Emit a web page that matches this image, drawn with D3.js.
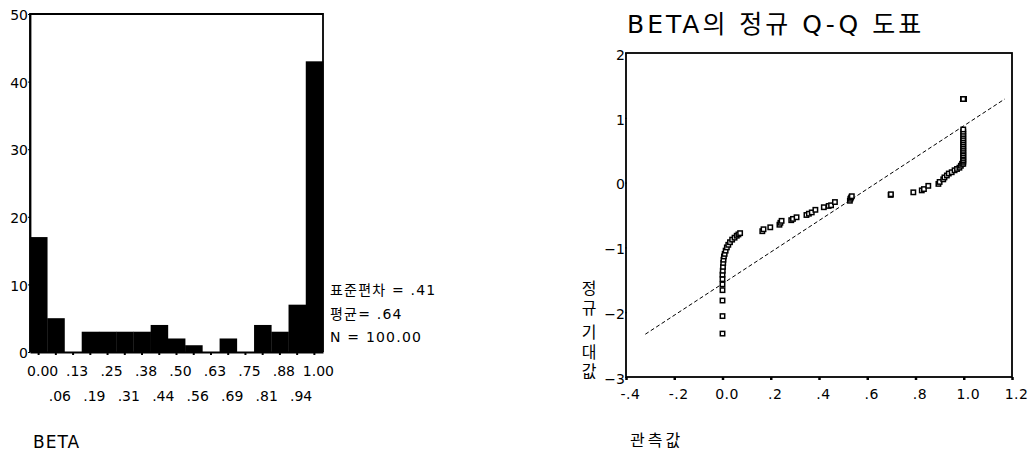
<!DOCTYPE html>
<html>
<head>
<meta charset="utf-8">
<script src="https://cdn.jsdelivr.net/npm/d3@7"></script>
<style>
  body { margin: 0; background: #fff; }
  svg { display: block; }
  text { font-family: "DejaVu Sans", "Noto Sans CJK KR", sans-serif; fill: #000; }
</style>
</head>
<body>
<svg id="chart" width="1031" height="455"></svg>
<script>
// histogram of BETA
const binLabels = ["0.00", ".06", ".13", ".19", ".25", ".31", ".38", ".44", ".50",
                   ".56", ".63", ".69", ".75", ".81", ".88", ".94", "1.00"];
const binCounts = [17, 5, 0, 3, 3, 3, 3, 4, 2, 1, 0, 2, 0, 4, 3, 7, 43];
const histTicks = [0, 10, 20, 30, 40, 50];
const statLines = ["표준편차 = .41", "평균= .64", "N = 100.00"];

// normal Q-Q plot: observed value, expected normal value
const observed = [
  0.000, 0.000, 0.000, 0.000, 0.000, 0.000, 0.000, 0.001, 0.002, 0.003,
  0.004, 0.006, 0.009, 0.013, 0.018, 0.024, 0.031, 0.040, 0.050, 0.059,
  0.066, 0.073, 0.165, 0.170, 0.198, 0.236, 0.240, 0.245, 0.285, 0.292,
  0.307, 0.348, 0.358, 0.370, 0.385, 0.420, 0.440, 0.450, 0.466, 0.528,
  0.530, 0.533, 0.536, 0.697, 0.698, 0.791, 0.826, 0.835, 0.853, 0.895,
  0.900, 0.915, 0.920, 0.930, 0.938, 0.950, 0.962, 0.972, 0.982, 0.988,
  0.993, 0.998, 0.998, 0.998, 0.998, 0.998, 0.998, 0.998, 0.998, 0.998,
  0.998, 0.998, 0.998, 0.998, 0.998, 0.998, 0.998, 0.998, 0.998, 0.998,
  0.998, 0.998, 0.998, 0.998, 0.998, 0.998, 0.998, 0.998, 0.998, 0.998,
  0.998, 0.998, 0.998, 0.998, 0.998, 0.998, 0.998, 0.998, 0.998, 0.998
];
const expected = [
  -2.33, -2.06, -1.82, -1.66, -1.57, -1.49, -1.42, -1.36, -1.30, -1.24,
  -1.19, -1.14, -1.10, -1.05, -1.00, -0.96, -0.92, -0.88, -0.85, -0.82,
  -0.80, -0.78, -0.75, -0.72, -0.69, -0.65, -0.62, -0.59, -0.58, -0.56,
  -0.535, -0.50, -0.48, -0.46, -0.42, -0.38, -0.36, -0.35, -0.30, -0.28,
  -0.25, -0.23, -0.21, -0.19, -0.18, -0.15, -0.12, -0.10, -0.05, -0.02,
  0.01, 0.05, 0.08, 0.11, 0.14, 0.16, 0.19, 0.21, 0.23, 0.26,
  0.29, 0.29, 0.32, 0.34, 0.37, 0.40, 0.42, 0.45, 0.48, 0.505,
  0.535, 0.565, 0.595, 0.625, 0.655, 0.685, 0.72, 0.75, 0.785, 0.82,
  1.29, 1.29, 1.29, 1.29, 1.29, 1.29, 1.29, 1.29, 1.29, 1.29,
  1.29, 1.29, 1.29, 1.29, 1.29, 1.29, 1.29, 1.29, 1.29, 1.29
];
const lineX = [-0.32, 1.17];
const lineY = [-2.34, 1.29];
const qqXTicks = [-0.4, -0.2, 0.0, 0.2, 0.4, 0.6, 0.8, 1.0, 1.2];
const qqXLabels = ["-.4", "-.2", "0.0", ".2", ".4", ".6", ".8", "1.0", "1.2"];
const qqYTicks = [-3, -2, -1, 0, 1, 2];

const svg = d3.select("#chart");

// ---------- histogram ----------
const hx = d3.scaleBand().domain(binLabels).range([30, 323]).padding(0);
const hy = d3.scaleLinear().domain([0, 50]).range([352, 14]);

const hist = svg.append("g");

hist.selectAll("rect")
  .data(binLabels)
  .enter()
  .append("rect")
  .attr("x", d => hx(d))
  .attr("y", (d, i) => hy(binCounts[i]))
  .attr("width", hx.bandwidth() + 0.3)
  .attr("height", (d, i) => hy(0) - hy(binCounts[i]))
  .attr("fill", "#000");

// frame: top, left, right
hist.append("path")
  .attr("d", `M${hx.range()[0]},${hy(0)}V${hy(50)}H${hx.range()[1]}V${hy(0)}`)
  .attr("fill", "none").attr("stroke", "#000").attr("stroke-width", 1.8);

hist.append("g")
  .attr("transform", `translate(0,${hy(0)})`)
  .call(d3.axisBottom(hx).tickSize(3).tickSizeOuter(0).tickFormat(""))
  .call(g => g.select(".domain").attr("stroke-width", 1.8))
  .call(g => g.selectAll(".tick line").attr("stroke-width", 2));

hist.append("g")
  .attr("transform", `translate(${hx.range()[0]},0)`)
  .call(d3.axisLeft(hy).tickValues(histTicks).tickSize(2).tickSizeOuter(0).tickPadding(0))
  .call(g => g.select(".domain").attr("stroke-width", 1.8))
  .call(g => g.selectAll("text").attr("font-size", 14).attr("font-family", "DejaVu Sans").attr("dy", "0.4em"));

hist.append("g").selectAll("text")
  .data(binLabels)
  .enter()
  .append("text")
  .attr("x", d => hx(d) + hx.bandwidth() / 2 + 4)
  .attr("y", (d, i) => i % 2 === 0 ? 376 : 401)
  .attr("text-anchor", "middle")
  .attr("font-size", 14)
  .text(d => d);

hist.append("g").selectAll("text")
  .data(statLines)
  .enter()
  .append("text")
  .attr("x", 330)
  .attr("y", (d, i) => 295 + i * 23.5)
  .attr("font-size", 14)
  .attr("letter-spacing", 1.2)
  .text(d => d);

hist.append("text")
  .attr("x", 33).attr("y", 448)
  .attr("font-size", 17).attr("letter-spacing", 1)
  .text("BETA");

// ---------- Q-Q plot ----------
const qx = d3.scaleLinear().domain([-0.4, 1.2]).range([626, 1012]);
const qy = d3.scaleLinear().domain([-3, 2]).range([377, 53]);

const qq = svg.append("g");

qq.append("text")
  .attr("x", 627).attr("y", 33)
  .attr("font-size", 25).attr("letter-spacing", 3)
  .text("BETA의 정규 Q-Q 도표");

qq.append("rect")
  .attr("x", qx(-0.4)).attr("y", qy(2))
  .attr("width", qx(1.2) - qx(-0.4)).attr("height", qy(-3) - qy(2))
  .attr("fill", "none").attr("stroke", "#000").attr("stroke-width", 1.8);

qq.append("g")
  .attr("transform", `translate(0,${qy(-3)})`)
  .call(d3.axisBottom(qx).tickValues(qqXTicks).tickSize(3).tickSizeOuter(0).tickPadding(9)
    .tickFormat((d, i) => qqXLabels[i]))
  .call(g => g.select(".domain").remove())
  .call(g => g.selectAll(".tick line").attr("stroke-width", 2.5))
  .call(g => g.selectAll("text").attr("font-size", 14).attr("font-family", "DejaVu Sans")
    .attr("dx", 4).attr("letter-spacing", 0.5));

qq.append("g")
  .attr("transform", `translate(${qx(-0.4) + 1},0)`)
  .call(d3.axisLeft(qy).tickValues(qqYTicks).tickSize(2).tickSizeOuter(0).tickPadding(0)
    .tickFormat(d3.format("d")))
  .call(g => g.select(".domain").remove())
  .call(g => g.selectAll("text").attr("font-size", 14).attr("font-family", "DejaVu Sans").attr("dy", "0.45em"));

qq.append("line")
  .attr("x1", qx(lineX[0])).attr("y1", qy(lineY[0]))
  .attr("x2", qx(lineX[1])).attr("y2", qy(lineY[1]))
  .attr("stroke", "#000").attr("stroke-width", 1)
  .attr("stroke-dasharray", "4,2.5");

qq.append("g").selectAll("rect")
  .data(observed)
  .enter()
  .append("rect")
  .attr("x", d => qx(d) - 2.2)
  .attr("y", (d, i) => qy(expected[i]) - 2.2)
  .attr("width", 4.4)
  .attr("height", 4.4)
  .attr("fill", "#fff")
  .attr("stroke", "#000")
  .attr("stroke-width", 1.5);

// vertical y label, one upright character per line
const yLabel = Array.from("정규 기대값");
let yPos = 294;
const yChars = yLabel.map(c => {
  const p = { c, y: yPos };
  yPos += c === " " ? 5 : 19.5;
  return p;
}).filter(p => p.c !== " ");
qq.append("g").selectAll("text")
  .data(yChars)
  .enter()
  .append("text")
  .attr("x", 589)
  .attr("y", d => d.y)
  .attr("text-anchor", "middle")
  .attr("font-size", 16)
  .text(d => d.c);

qq.append("text")
  .attr("x", 630).attr("y", 446)
  .attr("font-size", 16).attr("letter-spacing", 3)
  .text("관측값");
</script>
</body>
</html>
